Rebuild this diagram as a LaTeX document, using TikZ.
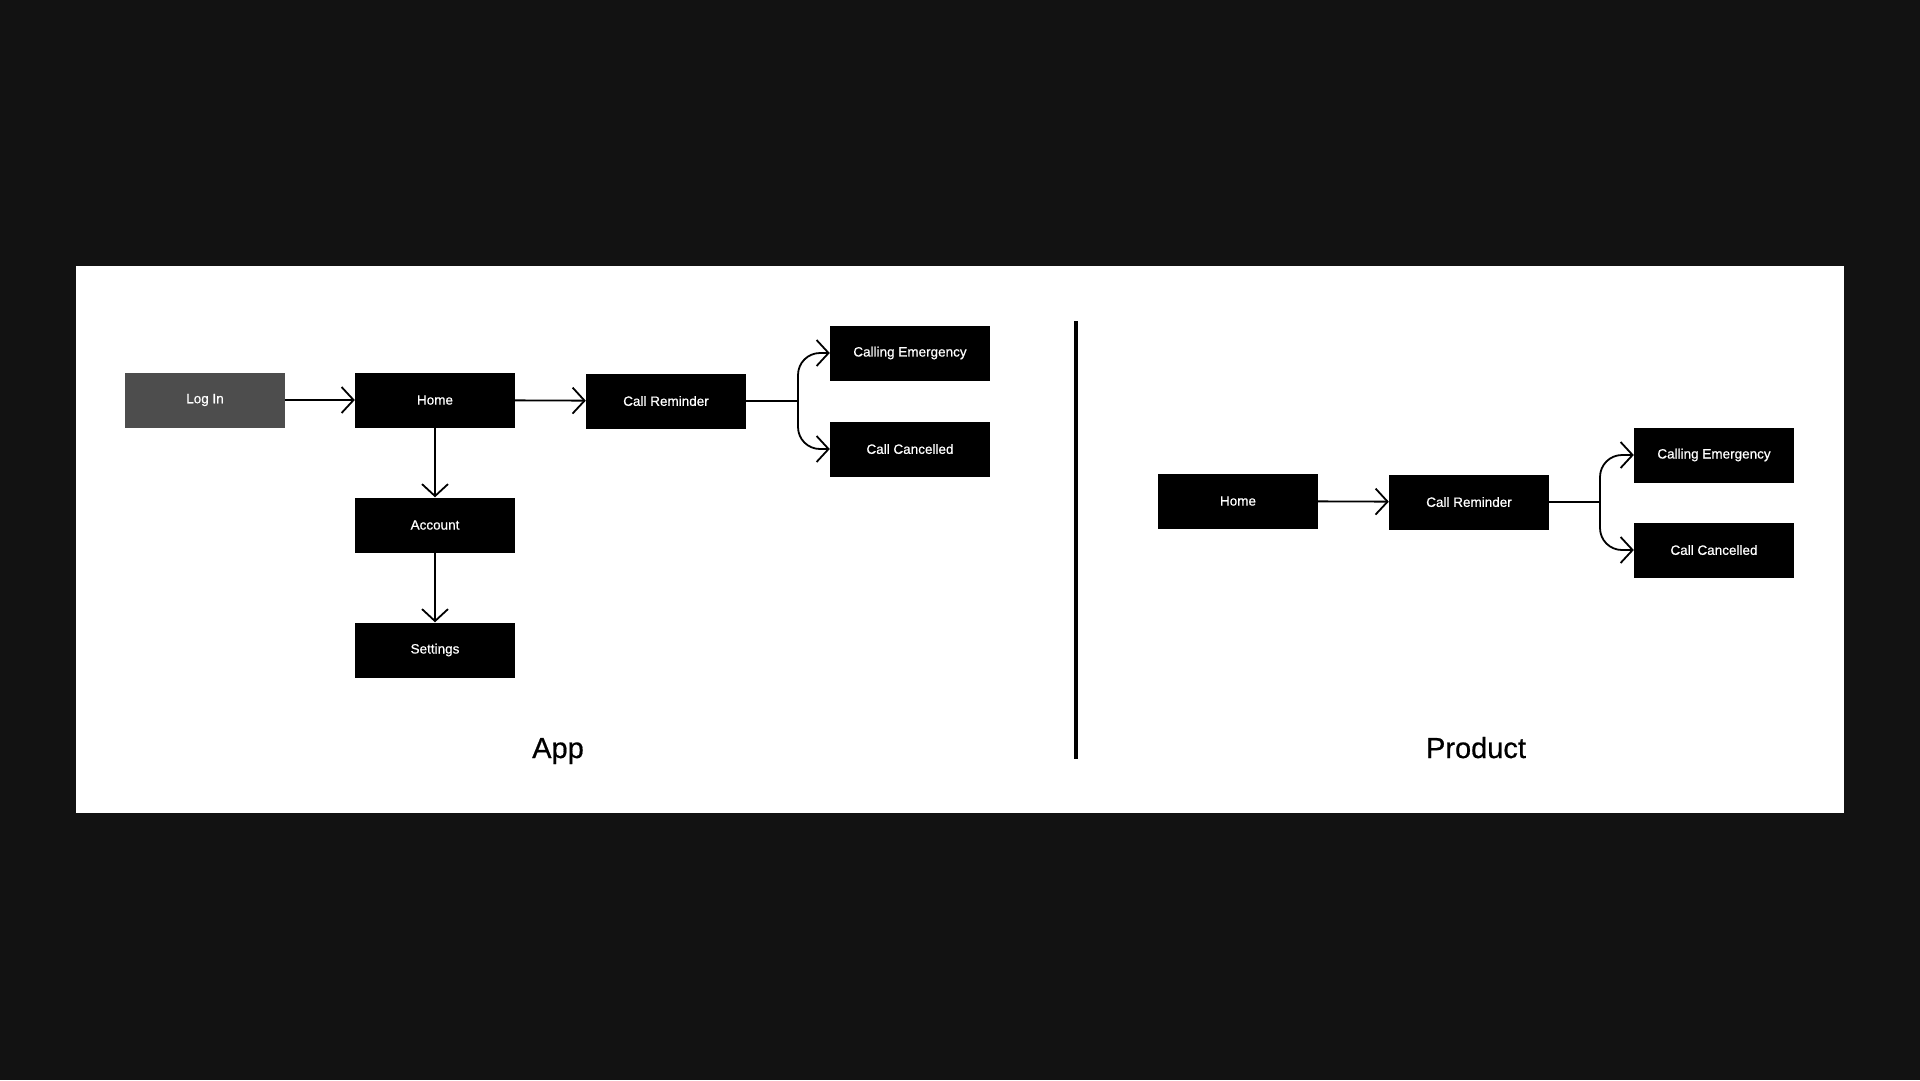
\documentclass[tikz,border=0pt]{standalone}
\usepackage{fontspec}
\setmainfont{Liberation Sans}[FakeBold=0.6]
\usepackage{xcolor}
\usetikzlibrary{arrows.meta}

\definecolor{backdrop}{HTML}{121212}
\definecolor{loginfill}{HTML}{4D4D4D}

\begin{document}
\begin{tikzpicture}[
  x=1pt, y=-1pt,
  screen/.style={rectangle, fill=black, text=white, minimum width=160pt, minimum height=55pt, inner sep=0pt, font=\fontsize{13.5}{16}\selectfont},
  arrow/.style={-{Straight Barb[length=12pt,width=26pt]}, line width=1.8pt},
  link/.style={line width=1.8pt},
  title/.style={anchor=base, font=\fontsize{29}{34}\selectfont}
]
\useasboundingbox (0,0) rectangle (1920,1080);
\fill[backdrop] (0,0) rectangle (1920,1080);
\fill[white] (76,266) rectangle (1844,813);

% app flow
\node[screen, fill=loginfill] (login) at (205,400) {Log In};
\node[screen] (home) at (435,400) {Home};
\node[screen] (remind) at (666,401) {Call Reminder};
\node[screen] (calling) at (910,353) {Calling Emergency};
\node[screen] (cancel) at (910,449) {Call Cancelled};
\node[screen] (account) at (435,525) {Account};
\node[screen] (settings) at (435,650) {Settings};
\coordinate (split) at (798,401);

\draw[arrow] (login) -- (home);
\draw[arrow] (home) -- (remind);
\draw[arrow] (home) -- (account);
\draw[arrow] (account) -- (settings);
\draw[link] (remind) -- (split);
\draw[arrow, rounded corners=22pt] (split) |- (calling.west);
\draw[arrow, rounded corners=22pt] (split) |- (cancel.west);

% divider
\coordinate (divtop) at (1076,321);
\coordinate (divbot) at (1076,759);
\draw[line width=4pt] (divtop) -- (divbot);

% product flow
\node[screen] (phome) at (1238,501) {Home};
\node[screen] (premind) at (1469,502) {Call Reminder};
\node[screen] (pcalling) at (1714,455) {Calling Emergency};
\node[screen] (pcancel) at (1714,550) {Call Cancelled};
\coordinate (psplit) at (1600,502);

\draw[arrow] (phome) -- (premind);
\draw[link] (premind) -- (psplit);
\draw[arrow, rounded corners=22pt] (psplit) |- (pcalling.west);
\draw[arrow, rounded corners=22pt] (psplit) |- (pcancel.west);

% captions
\node[title] (applabel) at (558,758) {App};
\node[title] (prodlabel) at (1476,758) {Product};

\end{tikzpicture}
\end{document}
